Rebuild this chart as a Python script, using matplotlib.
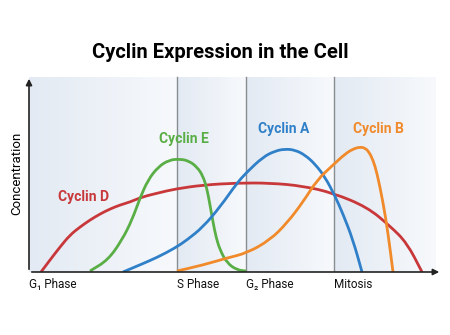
import numpy as np
import matplotlib.pyplot as plt
from matplotlib.colors import LinearSegmentedColormap
from matplotlib.path import Path
from matplotlib.patches import PathPatch

plt.rcParams['font.family'] = ['Roboto', 'DejaVu Sans']

# phase boundaries (time axis, arbitrary units) and labels
phase_edges = [0, 148, 217, 305, 407]
phase_labels = ["G\u2081 Phase", "S Phase", "G\u2082 Phase", "Mitosis"]

# curves: (time, concentration)
cyc_d_x = [12, 21, 31, 41, 51, 61, 71, 81, 91, 101, 113, 129, 146, 174, 208, 241, 274, 304, 338, 361, 378, 393]
cyc_d_y = [0, 12, 25, 37, 45, 52, 58, 63, 67, 70, 75, 79, 83, 87, 89, 89, 86, 79, 65, 46, 29, 0]
cyc_e_x = [61, 79, 93, 103, 111, 119, 129, 140, 151, 160, 168, 174, 178, 181, 184, 187, 191, 198, 208, 217]
cyc_e_y = [1, 12, 32, 52, 74, 92, 105, 112, 113, 111, 105, 96, 83, 67, 50, 35, 22, 9, 2, 1]
cyc_a_x = [94, 113, 129, 146, 158, 174, 191, 208, 218, 234, 246, 256, 266, 276, 286, 296, 306, 314, 324, 333]
cyc_a_y = [0, 8, 15, 24, 32, 45, 65, 89, 100, 115, 121, 123, 122, 117, 108, 95, 76, 58, 32, 0]
cyc_b_x = [148, 174, 198, 218, 241, 258, 274, 288, 304, 316, 324, 331, 336, 340, 344, 348, 354, 359, 364]
cyc_b_y = [1, 7, 14, 19, 32, 49, 70, 92, 107, 118, 123, 125, 124, 120, 112, 99, 70, 39, 0]

names = ["Cyclin D", "Cyclin E", "Cyclin A", "Cyclin B"]
colors = ["#c8383a", "#5aae46", "#2f80c8", "#f08a2a"]
label_pos = [(55, 75), (155, 133), (255, 143), (349, 143)]


def smooth_path(xs, ys):
    # quadratic bezier through segment midpoints, using the read points as controls
    pts = np.column_stack([xs, ys]).astype(float)
    mids = (pts[:-1] + pts[1:]) / 2
    verts = [pts[0], mids[0]]
    codes = [Path.MOVETO, Path.LINETO]
    for i in range(1, len(pts) - 1):
        verts += [pts[i], mids[i]]
        codes += [Path.CURVE3, Path.CURVE3]
    verts.append(pts[-1])
    codes.append(Path.LINETO)
    return Path(verts, codes)


fig = plt.figure(figsize=(4.5, 3.35), dpi=100)
ax = fig.add_axes([29 / 450, 63 / 335, 412 / 450, 197 / 335])
ax.set_xlim(0, 412)
ax.set_ylim(0, 197)

# gradient backgrounds per phase
cmap = LinearSegmentedColormap.from_list("bg", ["#e3eaf3", "#f7f9fc"])
grad = np.linspace(0, 1, 256).reshape(1, -1)
for a, b in zip(phase_edges[:-1], phase_edges[1:]):
    ax.imshow(grad, cmap=cmap, extent=[a, b, 0, 195], aspect="auto", zorder=0)
for e in phase_edges[1:-1]:
    ax.plot([e, e], [0, 195], color="#8a8d91", lw=1, zorder=1)

series = [(cyc_d_x, cyc_d_y), (cyc_e_x, cyc_e_y), (cyc_a_x, cyc_a_y), (cyc_b_x, cyc_b_y)]
for (xs, ys), name, c, (lx, ly) in zip(series, names, colors, label_pos):
    ax.add_patch(PathPatch(smooth_path(xs, ys), facecolor="none", edgecolor=c, lw=2,
                           capstyle="butt", joinstyle="round", zorder=3))
    ax.text(lx, ly, name, color=c, fontsize=10, fontweight="bold", ha="center", va="center")

# axes as arrows
for s in ax.spines.values():
    s.set_visible(False)
ax.annotate("", xy=(413, 0), xytext=(0, 0), annotation_clip=False,
            arrowprops=dict(arrowstyle="-|>", color="#222222", lw=1.2, mutation_scale=9))
ax.annotate("", xy=(0, 196), xytext=(0, 0), annotation_clip=False,
            arrowprops=dict(arrowstyle="-|>", color="#222222", lw=1.2, mutation_scale=9))

ax.set_xticks([])
ax.set_yticks([])
for e, lab in zip(phase_edges[:-1], phase_labels):
    ax.text(e, -13, lab, fontsize=8.5, ha="left", va="center", color="#111111")

ax.set_ylabel("Concentration", fontsize=9.5, labelpad=4)
fig.text(220 / 450, 1 - 52 / 335, "Cyclin Expression in the Cell", fontsize=14.5,
         fontweight="bold", ha="center", va="center")

fig.savefig("out.png", dpi=100)
